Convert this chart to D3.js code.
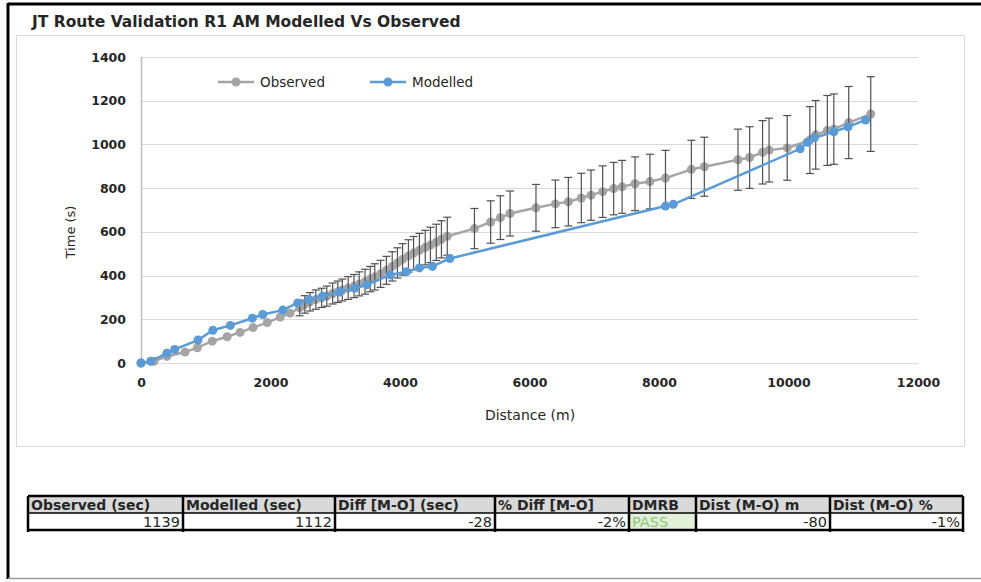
<!DOCTYPE html>
<html>
<head>
<meta charset="utf-8">
<script src="https://cdn.jsdelivr.net/npm/d3@7"></script>
<style>
body { margin: 0; background: #fff; }
text { font-family: "DejaVu Sans", sans-serif; }
</style>
</head>
<body>
<script>
// observed run: distance (m), time (s), error bar half-length (s)
var obsDist = [0, 200, 400, 680, 870, 1100, 1330, 1530, 1730, 1950, 2150, 2300,
    2450, 2530, 2610, 2700, 2790, 2870, 2960, 3040, 3110, 3200, 3290, 3370, 3460, 3540,
    3610, 3700, 3790, 3880, 3960, 4040, 4130, 4210, 4300, 4390, 4470, 4560, 4640, 4730,
    5150, 5400, 5550, 5700, 6100, 6400, 6600, 6800, 6950, 7130, 7300, 7430, 7630, 7860,
    8100, 8500, 8700, 9220, 9400, 9600, 9700, 9980, 10330, 10420, 10600, 10700, 10930, 11270];
var obsTime = [0, 8, 30, 50, 70, 100, 120, 140, 162, 185, 210, 228,
    252, 268, 280, 290, 298, 306, 318, 326, 334, 343, 352, 362, 372, 384,
    394, 408, 424, 442, 458, 474, 490, 503, 516, 528, 540, 552, 566, 580,
    615, 645, 665, 684, 710, 728, 738, 755, 768, 784, 798, 806, 820, 830,
    846, 886, 898, 930, 940, 964, 974, 984, 1020, 1044, 1064, 1070, 1100, 1139];
var obsErr = [0, 0, 0, 0, 0, 0, 0, 0, 0, 0, 0, 0,
    36, 40, 42, 44, 44, 46, 48, 49, 50, 52, 53, 55, 57, 58,
    60, 62, 64, 67, 69, 72, 74, 76, 77, 79, 81, 83, 85, 87,
    92, 97, 100, 103, 107, 109, 111, 113, 115, 118, 120, 121, 123, 125,
    127, 133, 135, 140, 141, 145, 146, 148, 153, 157, 160, 161, 165, 171];

// modelled run
var modDist = [0, 150, 400, 520, 880, 1110, 1380, 1720, 1880, 2190, 2420, 2600, 2800,
    3070, 3300, 3490, 3850, 4100, 4300, 4500, 4770, 8100, 8220, 10180, 10290, 10400,
    10700, 10920, 11190];
var modTime = [0, 8, 45, 62, 105, 150, 172, 205, 222, 242, 275, 290, 305,
    325, 342, 358, 403, 418, 435, 442, 478, 718, 726, 980, 1010, 1030,
    1058, 1080, 1112];

var xTicks = [0, 2000, 4000, 6000, 8000, 10000, 12000];
var yTicks = [0, 200, 400, 600, 800, 1000, 1200, 1400];

var tableHeads = ["Observed (sec)", "Modelled (sec)", "Diff [M-O] (sec)", "% Diff [M-O]",
    "DMRB", "Dist (M-O) m", "Dist (M-O) %"];
var tableValues = ["1139", "1112", "-28", "-2%", "PASS", "-80", "-1%"];

var W = 981, H = 582;
var svg = d3.select("body").append("svg")
    .attr("width", W)
    .attr("height", H);

// outer frame
svg.append("line").attr("x1", 8).attr("x2", W).attr("y1", 4).attr("y2", 4)
    .attr("stroke", "#000").attr("stroke-width", 3);
svg.append("line").attr("x1", 8).attr("x2", 8).attr("y1", 3).attr("y2", 579)
    .attr("stroke", "#000").attr("stroke-width", 3);
svg.append("line").attr("x1", 8).attr("x2", W).attr("y1", 578.5).attr("y2", 578.5)
    .attr("stroke", "#9a9a9a").attr("stroke-width", 1.5);

// chart area
svg.append("rect")
    .attr("x", 16.5).attr("y", 35.5)
    .attr("width", 948).attr("height", 411)
    .attr("fill", "#fff")
    .attr("stroke", "#d9d9d9");

svg.append("text")
    .attr("x", 32).attr("y", 27)
    .attr("font-size", 15.5)
    .attr("font-weight", "bold")
    .attr("fill", "#262626")
    .text("JT Route Validation R1 AM Modelled Vs Observed");

var x = d3.scaleLinear().domain([0, 12000]).range([141, 918]);
var y = d3.scaleLinear().domain([0, 1400]).range([363, 57]);

// gridlines
svg.append("g")
    .selectAll("line")
    .data(yTicks)
    .enter()
    .append("line")
    .attr("x1", x(0)).attr("x2", x(12000))
    .attr("y1", function(d){ return Math.round(y(d)) + 0.5; })
    .attr("y2", function(d){ return Math.round(y(d)) + 0.5; })
    .attr("stroke", "#d9d9d9");

// axes
var yAxis = svg.append("g")
    .attr("transform", "translate(" + x(0) + ",0)")
    .call(d3.axisLeft(y).tickValues(yTicks).tickSize(0).tickPadding(15).tickFormat(d3.format("d")));
var xAxis = svg.append("g")
    .attr("transform", "translate(0," + (y(0) + 11) + ")")
    .call(d3.axisBottom(x).tickValues(xTicks).tickSize(0).tickPadding(4).tickFormat(d3.format("d")));
[yAxis, xAxis].forEach(function(g){
    g.select(".domain").remove();
    g.selectAll("text")
        .attr("font-family", "Lato, 'Liberation Sans', sans-serif")
        .attr("font-size", 12.5)
        .attr("font-weight", "bold")
        .attr("fill", "#262626");
});
svg.append("line")
    .attr("x1", x(0) + 0.5).attr("x2", x(0) + 0.5)
    .attr("y1", y(1400)).attr("y2", y(0))
    .attr("stroke", "#bfbfbf").attr("stroke-width", 1.5);

// axis titles
svg.append("text")
    .attr("x", 530).attr("y", 420)
    .attr("text-anchor", "middle")
    .attr("font-size", 14)
    .attr("fill", "#262626")
    .text("Distance (m)");
svg.append("text")
    .attr("transform", "translate(75,232) rotate(-90)")
    .attr("text-anchor", "middle")
    .attr("font-size", 13)
    .attr("fill", "#262626")
    .text("Time (s)");

var grey = "#a5a5a5", blue = "#5b9bd5";
var obs = obsDist.map(function(d, i){ return {d: d, t: obsTime[i], e: obsErr[i]}; });
var mod = modDist.map(function(d, i){ return {d: d, t: modTime[i]}; });

var line = d3.line()
    .x(function(p){ return x(p.d); })
    .y(function(p){ return y(p.t); });

// observed series
svg.append("path")
    .datum(obs)
    .attr("d", line)
    .attr("fill", "none")
    .attr("stroke", grey)
    .attr("stroke-width", 2.5);
svg.append("g")
    .selectAll("circle")
    .data(obs)
    .enter()
    .append("circle")
    .attr("cx", function(p){ return x(p.d); })
    .attr("cy", function(p){ return y(p.t); })
    .attr("r", 4.5)
    .attr("fill", grey);

// error bars
var bars = svg.append("g")
    .attr("stroke", "#505050")
    .attr("stroke-width", 1.2)
    .selectAll("g")
    .data(obs.filter(function(p){ return p.e > 0; }))
    .enter()
    .append("g");
bars.append("line")
    .attr("x1", function(p){ return x(p.d); })
    .attr("x2", function(p){ return x(p.d); })
    .attr("y1", function(p){ return y(p.t + p.e); })
    .attr("y2", function(p){ return y(p.t - p.e); });
bars.append("line")
    .attr("x1", function(p){ return x(p.d) - 4; })
    .attr("x2", function(p){ return x(p.d) + 4; })
    .attr("y1", function(p){ return y(p.t + p.e); })
    .attr("y2", function(p){ return y(p.t + p.e); });
bars.append("line")
    .attr("x1", function(p){ return x(p.d) - 4; })
    .attr("x2", function(p){ return x(p.d) + 4; })
    .attr("y1", function(p){ return y(p.t - p.e); })
    .attr("y2", function(p){ return y(p.t - p.e); });

// modelled series
svg.append("path")
    .datum(mod)
    .attr("d", line)
    .attr("fill", "none")
    .attr("stroke", blue)
    .attr("stroke-width", 2.5);
svg.append("g")
    .selectAll("circle")
    .data(mod)
    .enter()
    .append("circle")
    .attr("cx", function(p){ return x(p.d); })
    .attr("cy", function(p){ return y(p.t); })
    .attr("r", 4.5)
    .attr("fill", blue);

// legend
var legend = [
    {name: "Observed", color: grey, x0: 218},
    {name: "Modelled", color: blue, x0: 370}
];
var lg = svg.append("g").selectAll("g")
    .data(legend)
    .enter()
    .append("g")
    .attr("transform", function(d){ return "translate(" + d.x0 + ",82)"; });
lg.append("line")
    .attr("x1", 0).attr("x2", 36)
    .attr("stroke", function(d){ return d.color; })
    .attr("stroke-width", 2.5);
lg.append("circle")
    .attr("cx", 18).attr("r", 4.5)
    .attr("fill", function(d){ return d.color; });
lg.append("text")
    .attr("x", 42).attr("y", 5)
    .attr("font-size", 13.5)
    .attr("fill", "#262626")
    .text(function(d){ return d.name; });

// summary table
var cols = [28, 183, 335, 495, 629, 696, 830, 963];
var rowTop = 496, rowH = 17;
var tbl = svg.append("g");
tableHeads.forEach(function(h, i){
    var x0 = cols[i], x1 = cols[i + 1];
    tbl.append("rect")
        .attr("x", x0).attr("y", rowTop)
        .attr("width", x1 - x0).attr("height", rowH)
        .attr("fill", "#d9d9d9");
    tbl.append("rect")
        .attr("x", x0).attr("y", rowTop + rowH)
        .attr("width", x1 - x0).attr("height", rowH)
        .attr("fill", h === "DMRB" ? "#e2f0d9" : "#fff");
    tbl.append("text")
        .attr("x", x0 + 3).attr("y", rowTop + rowH - 3.5)
        .attr("font-size", 14)
        .attr("font-weight", "bold")
        .attr("fill", "#262626")
        .text(h);
    var isPass = tableValues[i] === "PASS";
    tbl.append("text")
        .attr("x", isPass ? x0 + 3 : x1 - 3)
        .attr("y", rowTop + 2 * rowH - 3)
        .attr("text-anchor", isPass ? "start" : "end")
        .attr("font-size", 14.5)
        .attr("fill", isPass ? "#8cc97a" : "#262626")
        .text(tableValues[i]);
});
// table borders
cols.forEach(function(cx){
    tbl.append("line")
        .attr("x1", cx).attr("x2", cx)
        .attr("y1", rowTop).attr("y2", rowTop + 2 * rowH + 2)
        .attr("stroke", "#000").attr("stroke-width", 2.5);
});
[0, 1, 2].forEach(function(r){
    tbl.append("line")
        .attr("x1", cols[0]).attr("x2", cols[cols.length - 1])
        .attr("y1", rowTop + r * rowH).attr("y2", rowTop + r * rowH)
        .attr("stroke", "#000").attr("stroke-width", r === 1 ? 1.5 : 2.5);
});
</script>
</body>
</html>
